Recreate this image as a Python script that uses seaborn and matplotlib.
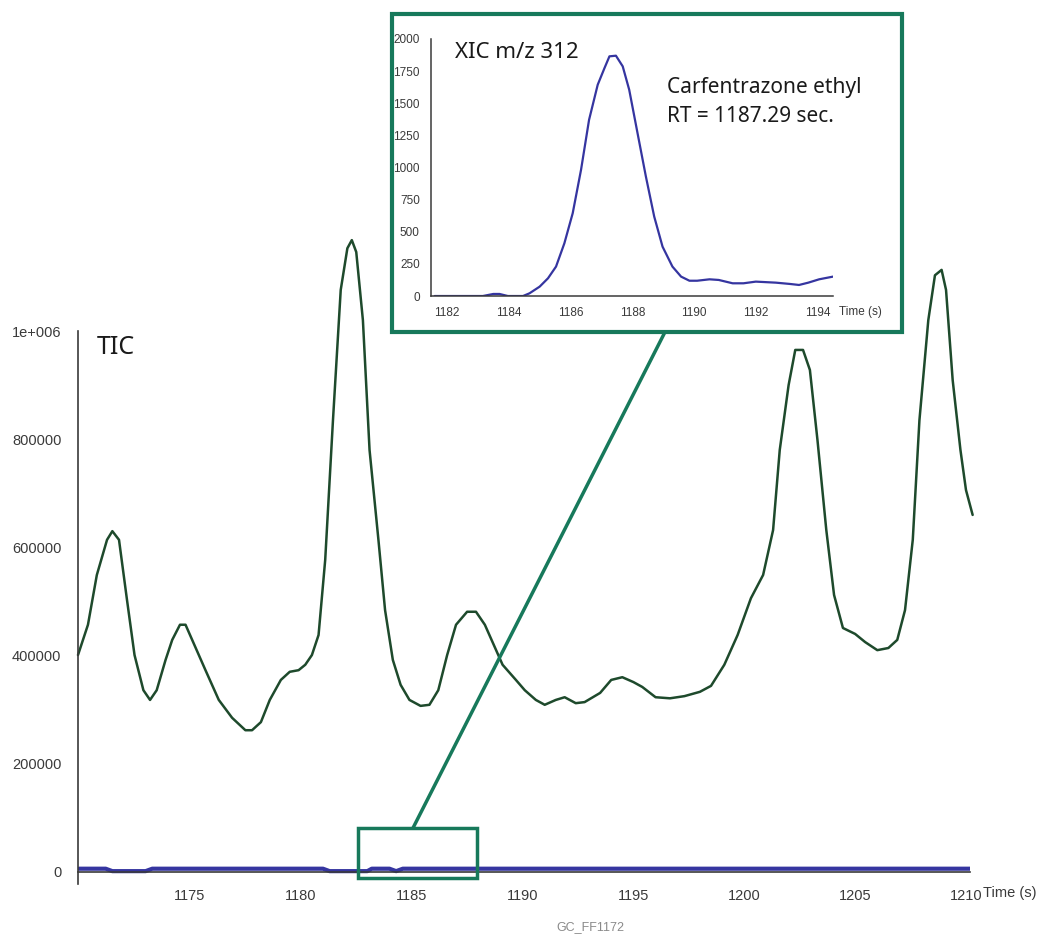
import matplotlib
matplotlib.use('Agg')
import matplotlib.pyplot as plt
import seaborn as sns
from matplotlib.patches import Rectangle, ConnectionPatch

# TIC trace (seconds, counts)
tic_time = [1169.95, 1170.4, 1170.8, 1171.26, 1171.5, 1171.8, 1172.16, 1172.5, 1172.9, 1173.2,
            1173.5, 1173.9, 1174.2, 1174.55, 1174.8, 1175.1, 1175.7, 1176.3, 1176.9, 1177.5,
            1177.8, 1178.2, 1178.6, 1179.1, 1179.5, 1179.9, 1180.2, 1180.5, 1180.8, 1181.1,
            1181.45, 1181.8, 1182.1, 1182.3, 1182.5, 1182.8, 1183.1, 1183.5, 1183.8, 1184.15,
            1184.5, 1184.9, 1185.4, 1185.8, 1186.2, 1186.6, 1187.0, 1187.5, 1187.9, 1188.3,
            1188.7, 1189.1, 1189.7, 1190.1, 1190.6, 1191.0, 1191.5, 1191.9, 1192.4, 1192.8,
            1193.5, 1194.0, 1194.5, 1195.0, 1195.4, 1196.0, 1196.65, 1197.3, 1198.0, 1198.5,
            1199.1, 1199.7, 1200.3, 1200.85, 1201.3, 1201.6, 1202.0, 1202.3, 1202.65, 1202.96,
            1203.3, 1203.7, 1204.05, 1204.45, 1205.0, 1205.45, 1206.0, 1206.5, 1206.9, 1207.25,
            1207.6, 1207.9, 1208.3, 1208.6, 1208.9, 1209.1, 1209.4, 1209.75, 1210.0, 1210.3]
tic_counts = [401000, 457000, 549000, 614000, 630000, 614000, 503000, 401000, 336000, 318000,
              336000, 392000, 429000, 457000, 457000, 429000, 373000, 318000, 285000, 262000,
              262000, 277000, 318000, 355000, 370000, 373000, 383000, 401000, 438000, 577000,
              835000, 1076000, 1153000, 1168000, 1146000, 1020000, 780000, 614000, 484000, 392000,
              346000, 318000, 307000, 309000, 336000, 401000, 457000, 481000, 481000, 457000,
              420000, 383000, 355000, 336000, 318000, 309000, 318000, 323000, 312000, 314000,
              331000, 355000, 360000, 351000, 342000, 323000, 321000, 325000, 333000, 344000,
              383000, 438000, 506000, 549000, 632000, 780000, 900000, 965000, 965000, 928000,
              799000, 632000, 512000, 451000, 440000, 425000, 410000, 414000, 429000, 484000,
              614000, 835000, 1020000, 1103000, 1113000, 1076000, 909000, 780000, 706000, 660000]

# m/z 312 trace on the TIC scale
xic_full_time = [1170.0, 1171.2, 1171.5, 1173.0, 1173.3, 1181.0, 1181.3, 1183.0, 1183.2,
                 1184.0, 1184.3, 1184.6, 1210.2]
xic_full_counts = [6000, 6000, 1500, 1500, 6000, 6000, 1500, 1500, 6000,
                   6000, 1500, 6000, 6000]

# zoomed XIC m/z 312
xic_time = [1181.6, 1183.16, 1183.5, 1183.7, 1183.97, 1184.46, 1184.67, 1185.0, 1185.27, 1185.53,
            1185.8, 1186.07, 1186.34, 1186.6, 1186.88, 1187.1, 1187.26, 1187.47, 1187.69, 1187.9,
            1188.17, 1188.44, 1188.71, 1188.98, 1189.3, 1189.58, 1189.85, 1190.1, 1190.5, 1190.8,
            1191.25, 1191.6, 1192.0, 1192.65, 1193.1, 1193.4, 1193.7, 1194.05, 1194.5]
xic_counts = [0, 0, 16, 16, 0, 0, 21, 73, 138, 229,
              410, 644, 982, 1371, 1644, 1774, 1865, 1870, 1787, 1605,
              1267, 930, 618, 384, 229, 151, 119, 119, 130, 125,
              99, 99, 112, 104, 94, 86, 104, 130, 151]

main_xticks = [1175, 1180, 1185, 1190, 1195, 1200, 1205, 1210]
main_yticks = [0, 200000, 400000, 600000, 800000, 1000000]
main_ylabels = ['0', '200000', '400000', '600000', '800000', '1e+006']
inset_xticks = [1182, 1184, 1186, 1188, 1190, 1192, 1194]
inset_yticks = [0, 250, 500, 750, 1000, 1250, 1500, 1750, 2000]

green = '#1e4a2c'
teal = '#17795b'
blue = '#3535a0'
tick_col = '#3a3a3a'

sns.set_style('white')
plt.rcParams['font.family'] = ['Liberation Sans', 'DejaVu Sans']
big_font = ['Noto Sans', 'DejaVu Sans']

fig = plt.figure(figsize=(10.44, 9.35), dpi=100)

# main TIC axes
ax = fig.add_axes([0.0747, 0.0547, 0.8544, 0.7070])
ax.patch.set_visible(False)
sns.lineplot(x=xic_full_time, y=xic_full_counts, ax=ax, color=blue, lw=3, estimator=None)
sns.lineplot(x=tic_time, y=tic_counts, ax=ax, color=green, lw=1.8, estimator=None, clip_on=False)
ax.set_xlim(1169.95, 1210.18)
ax.set_ylim(-22000, 1200000)
ax.set_xticks(main_xticks)
ax.set_yticks(main_yticks)
ax.set_yticklabels(main_ylabels)
for s in ['top', 'right']:
    ax.spines[s].set_visible(False)
ax.spines['bottom'].set_position(('data', 0))
ax.spines['left'].set_bounds(-22000, 1000000)
for s in ['left', 'bottom']:
    ax.spines[s].set_color(tick_col)
    ax.spines[s].set_linewidth(1.2)
ax.tick_params(axis='both', direction='out', colors=tick_col, width=1.2, labelsize=10.5)
ax.tick_params(axis='y', length=8, pad=4)
ax.tick_params(axis='x', length=9, pad=3)
ax.set_xlabel('')
ax.set_ylabel('')
ax.text(1210.77, -38000, 'Time (s)', fontsize=10.5, color=tick_col, va='center', ha='left')
ax.text(1170.8, 970000, 'TIC', fontsize=18, family=big_font, color='#1a1a1a', va='center', ha='left')

ax.add_patch(Rectangle((1182.58, -11100), 5.37, 92400, fill=False, ec=teal, lw=2.5,
                       clip_on=False, zorder=5))
con = ConnectionPatch(xyA=(1185.06, 81300), coordsA=ax.transData,
                      xyB=(665 / 1044, 1 - 332 / 935), coordsB=fig.transFigure,
                      color=teal, lw=2.5, zorder=1.5)
fig.add_artist(con)

# inset frame
box = Rectangle((0.3755, 0.6449), 0.4885, 0.3401, transform=fig.transFigure,
                fc='white', ec=teal, lw=3, zorder=1)
fig.add_artist(box)

axins = fig.add_axes([0.4128, 0.6834, 0.3851, 0.2749])
axins.set_zorder(2)
axins.patch.set_visible(False)
sns.lineplot(x=xic_time, y=xic_counts, ax=axins, color=blue, lw=1.6, estimator=None)
axins.set_xlim(1181.48, 1194.5)
axins.set_ylim(0, 2000)
axins.set_xticks(inset_xticks)
axins.set_yticks(inset_yticks)
for s in ['top', 'right']:
    axins.spines[s].set_visible(False)
for s in ['left', 'bottom']:
    axins.spines[s].set_color(tick_col)
    axins.spines[s].set_linewidth(1.1)
axins.tick_params(axis='both', direction='out', colors=tick_col, width=1.1, length=5,
                  pad=3, labelsize=8.5)
axins.set_xlabel('')
axins.set_ylabel('')
axins.text(1194.69, -125, 'Time (s)', fontsize=8.5, color=tick_col, va='center', ha='left',
           clip_on=False)
axins.text(1182.26, 1891, 'XIC m/z 312', fontsize=16, family=big_font, color='#1a1a1a',
           va='center', ha='left')
axins.text(1189.12, 1626, 'Carfentrazone ethyl', fontsize=15, family=big_font, color='#1a1a1a',
           va='center', ha='left')
axins.text(1189.12, 1393, 'RT = 1187.29 sec.', fontsize=15, family=big_font, color='#1a1a1a',
           va='center', ha='left')

fig.text(590 / 1044, 1 - 927 / 935, 'GC_FF1172', ha='center', va='center', color='#8a8a8a',
         fontsize=9)

fig.savefig('out.png', dpi=100)
